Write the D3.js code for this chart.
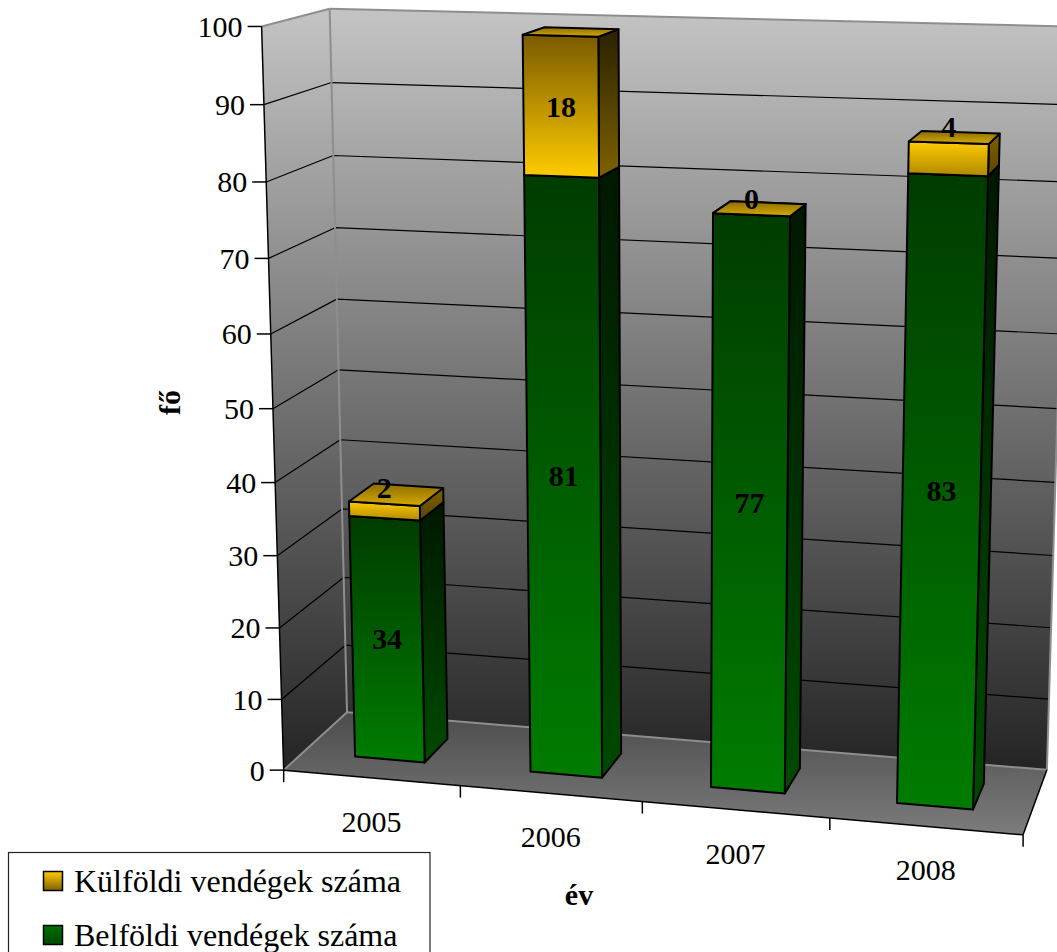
<!DOCTYPE html>
<html>
<head>
<meta charset="utf-8">
<script src="https://cdn.jsdelivr.net/npm/d3@7"></script>
<style>
  body { margin: 0; background: #fff; }
  svg { display: block; }
  text { font-family: "Liberation Serif", "Times New Roman", serif; fill: #000; }
</style>
</head>
<body>
<svg id="chart" width="1057" height="952"></svg>
<script>
// data
const years = ["2005", "2006", "2007", "2008"];
const belfoldi = [34, 81, 77, 83];
const kulfoldi = [2, 18, 0, 4];
const seriesNames = ["Külföldi vendégek száma", "Belföldi vendégek száma"];
const yTickValues = [0, 10, 20, 30, 40, 50, 60, 70, 80, 90, 100];

// frame calibration: unit cube corners / axis ticks -> screen (X along categories, Y value/100, Z depth)
const frame = [
  [0, 0, 0, 283.3, 769.5], [0, 1, 0, 261.7, 26.7],
  [0, 0, 1, 346.7, 712.3], [0, 1, 1, 328.3, 8.3],
  [1, 0, 0, 1023.3, 834], [1, 0, 1, 1046.7, 770],
  [0.25, 0, 0, 460, 786.7], [0.5, 0, 0, 642.3, 801.7], [0.75, 0, 0, 830, 818.3],
  [0, 0.9, 0, 263.3, 105], [0, 0.8, 0, 266, 181.7], [0, 0.7, 0, 269.3, 258.3], [0, 0.1, 0, 282, 699],
  [0, 0.9, 1, 331.7, 82.7], [0, 0.8, 1, 334, 155.7], [0, 0.7, 1, 336, 227.7]
];

function fitCamera(pts) {
  const A = [], b = [];
  pts.forEach(([X, Y, Z, px, py]) => {
    const x = (px - 500) / 500, y = (py - 500) / 500;
    A.push([X, Y, Z, 1, 0, 0, 0, 0, -x * X, -x * Y, -x * Z]); b.push(x);
    A.push([0, 0, 0, 0, X, Y, Z, 1, -y * X, -y * Y, -y * Z]); b.push(y);
  });
  const n = 11;
  const M = d3.range(n).map(i => {
    const row = new Array(n + 1).fill(0);
    A.forEach((a, k) => {
      for (let j = 0; j < n; j++) row[j] += a[i] * a[j];
      row[n] += a[i] * b[k];
    });
    return row;
  });
  for (let c = 0; c < n; c++) {
    let p = c;
    for (let r = c + 1; r < n; r++) if (Math.abs(M[r][c]) > Math.abs(M[p][c])) p = r;
    [M[c], M[p]] = [M[p], M[c]];
    for (let r = 0; r < n; r++) {
      if (r === c) continue;
      const f = M[r][c] / M[c][c];
      for (let j = c; j <= n; j++) M[r][j] -= f * M[c][j];
    }
  }
  return M.map((row, i) => row[n] / row[i]);
}

const cam = fitCamera(frame);
function proj(X, Y, Z) {
  const w = cam[8] * X + cam[9] * Y + cam[10] * Z + 1;
  const x = (cam[0] * X + cam[1] * Y + cam[2] * Z + cam[3]) / w;
  const y = (cam[4] * X + cam[5] * Y + cam[6] * Z + cam[7]) / w;
  return [x * 500 + 500, y * 500 + 500];
}

// scales
const xScale = d3.scaleBand().domain(years).range([0, 1]).paddingInner(0.6).paddingOuter(0.3);
const yScale = d3.scaleLinear().domain([0, 100]).range([0, 1]);
const zFront = 0.3, zBack = 0.7;

const svg = d3.select('#chart');
const defs = svg.append('defs');

function grad(id, stops, user) {
  const g = defs.append('linearGradient').attr('id', id)
    .attr('x1', 0).attr('y1', 0).attr('x2', 0).attr('y2', 1);
  if (user) {
    g.attr('gradientUnits', 'userSpaceOnUse')
      .attr('x1', 0).attr('x2', 0).attr('y1', user[0]).attr('y2', user[1]);
  }
  stops.forEach((c, i) => g.append('stop')
    .attr('offset', i / (stops.length - 1)).attr('stop-color', c));
}

grad('wallGrad', ['#c4c4c4', '#242424'], [8, 770]);
grad('floorGrad', ['#4c4c4c', '#7c7c7c']);
grad('greenFront', ['#003c00', '#007c00']);
grad('greenSide', ['#001800', '#004a00']);
grad('greenTop', ['#003000', '#005000']);
grad('yellowFrontTall', ['#7a5a00', '#ffcc00']);
grad('yellowFrontShort', ['#ffcc00', '#b08800']);
grad('yellowSideTall', ['#2a2000', '#7e6200']);
grad('yellowSideShort', ['#7e6200', '#5a4400']);
grad('yellowTop', ['#8c6c00', '#d6aa00']);
grad('legendYellow', ['#ffcc00', '#806200']);
grad('legendGreen', ['#007000', '#004a00']);

const line = d3.line();
const poly = pts => line(pts.map(p => proj(...p))) + 'Z';
const seg = (a, b) => line([proj(...a), proj(...b)]);

const g = svg.append('g');

// walls and floor
g.append('path').attr('d', poly([[0, 0, 0], [0, 0, 1], [0, 1, 1], [0, 1, 0]])).attr('fill', 'url(#wallGrad)');
g.append('path').attr('d', poly([[0, 0, 1], [1, 0, 1], [1, 1, 1], [0, 1, 1]])).attr('fill', 'url(#wallGrad)');
g.append('path').attr('d', poly([[0, 0, 0], [1, 0, 0], [1, 0, 1], [0, 0, 1]])).attr('fill', 'url(#floorGrad)');

// gridlines
yTickValues.filter(v => v > 0 && v < 100).forEach(v => {
  const y = yScale(v);
  g.append('path').attr('d', seg([0, y, 0], [0, y, 1]) + seg([0, y, 1], [1, y, 1]))
    .attr('fill', 'none').attr('stroke', '#000').attr('stroke-width', 1.2);
});

// wall edges (gray)
[
  [[0, 1, 0], [0, 1, 1]], [[0, 1, 1], [1, 1, 1]], [[0, 0, 1], [0, 1, 1]],
  [[0, 0, 1], [1, 0, 1]], [[1, 0, 1], [1, 1, 1]], [[0, 0, 0], [0, 0, 1]]
].forEach(([a, b]) => g.append('path').attr('d', seg(a, b))
  .attr('fill', 'none').attr('stroke', '#8e8e8e').attr('stroke-width', 2));

// axis lines (black)
[
  [[0, 0, 0], [0, 1, 0]], [[0, 0, 0], [1, 0, 0]], [[1, 0, 0], [1, 0, 1]]
].forEach(([a, b]) => g.append('path').attr('d', seg(a, b))
  .attr('fill', 'none').attr('stroke', '#000').attr('stroke-width', 1.5));

// value axis ticks and labels
yTickValues.forEach(v => {
  const [px, py] = proj(0, yScale(v), 0);
  g.append('line').attr('x1', px - 14).attr('x2', px).attr('y1', py).attr('y2', py)
    .attr('stroke', '#000').attr('stroke-width', 1.5);
  g.append('text').attr('x', px - 19).attr('y', py).attr('dy', '0.35em')
    .attr('text-anchor', 'end').attr('font-size', 30).text(v);
});

// category ticks and labels
d3.range(years.length + 1).forEach(i => {
  const [px, py] = proj(i / years.length, 0, 0);
  g.append('line').attr('x1', px).attr('x2', px).attr('y1', py).attr('y2', py + 12)
    .attr('stroke', '#000').attr('stroke-width', 1.5);
});
years.forEach(yr => {
  const [px, py] = proj(xScale(yr) + xScale.bandwidth() / 2, 0, 0);
  g.append('text').attr('x', px).attr('y', py + 54).attr('text-anchor', 'middle')
    .attr('font-size', 30).text(yr);
});

// bars
function box(x0, x1, y0, y1, fills) {
  const face = (pts, fill) => g.append('path').attr('d', poly(pts)).attr('fill', fill)
    .attr('stroke', '#000').attr('stroke-width', 2).attr('stroke-linejoin', 'round');
  face([[x1, y0, zFront], [x1, y0, zBack], [x1, y1, zBack], [x1, y1, zFront]], fills.side);
  face([[x0, y0, zFront], [x1, y0, zFront], [x1, y1, zFront], [x0, y1, zFront]], fills.front);
  face([[x0, y1, zFront], [x1, y1, zFront], [x1, y1, zBack], [x0, y1, zBack]], fills.top);
}

const labels = [];
years.forEach((yr, i) => {
  const x0 = xScale(yr), x1 = x0 + xScale.bandwidth(), xc = (x0 + x1) / 2;
  const segs = [
    { lo: 0, hi: belfoldi[i], v: belfoldi[i],
      fills: { front: 'url(#greenFront)', side: 'url(#greenSide)', top: 'url(#greenTop)' } },
    { lo: belfoldi[i], hi: belfoldi[i] + kulfoldi[i], v: kulfoldi[i],
      fills: kulfoldi[i] >= 10
        ? { front: 'url(#yellowFrontTall)', side: 'url(#yellowSideTall)', top: 'url(#yellowTop)' }
        : { front: 'url(#yellowFrontShort)', side: 'url(#yellowSideShort)', top: 'url(#yellowTop)' } }
  ];
  segs.forEach(s => {
    box(x0, x1, yScale(s.lo), yScale(s.hi), s.fills);
    const top = proj(xc, yScale(s.hi), zFront);
    const bot = proj(xc, yScale(s.lo), zFront);
    if (bot[1] - top[1] >= 36) {
      labels.push({ x: top[0] / 2 + bot[0] / 2, y: (top[1] + bot[1]) / 2, dy: '0.35em', v: s.v });
    } else {
      labels.push({ x: top[0], y: top[1] - 5.5, dy: 0, v: s.v });
    }
  });
});

labels.forEach(l => g.append('text').attr('x', l.x).attr('y', l.y).attr('dy', l.dy)
  .attr('text-anchor', 'middle').attr('font-size', 30).attr('font-weight', 'bold').text(l.v));

// axis titles
g.append('text').attr('transform', 'translate(180,402.5) rotate(-90)')
  .attr('text-anchor', 'middle').attr('font-size', 30).attr('font-weight', 'bold').text('fő');
g.append('text').attr('x', 579).attr('y', 905)
  .attr('text-anchor', 'middle').attr('font-size', 30).attr('font-weight', 'bold').text('év');

// legend
const legend = svg.append('g');
legend.append('rect').attr('x', 8.5).attr('y', 852.5).attr('width', 421.5).attr('height', 120)
  .attr('fill', '#fff').attr('stroke', '#222').attr('stroke-width', 1.2);
const legendFills = ['url(#legendYellow)', 'url(#legendGreen)'];
seriesNames.forEach((name, i) => {
  const base = 892 + i * 54;
  legend.append('rect').attr('x', 43.5).attr('y', base - 20.5).attr('width', 19).attr('height', 19)
    .attr('fill', legendFills[i]).attr('stroke', '#000').attr('stroke-width', 1.5);
  legend.append('text').attr('x', 74).attr('y', base).attr('font-size', 32).text(name);
});
</script>
</body>
</html>
